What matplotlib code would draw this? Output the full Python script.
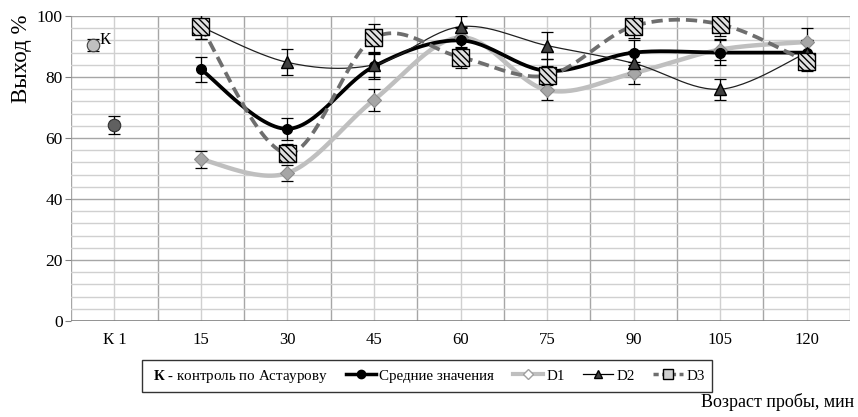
import numpy as np
import matplotlib
matplotlib.use('Agg')
import matplotlib.pyplot as plt
from matplotlib.lines import Line2D

plt.rcParams['font.family'] = ['Liberation Serif', 'DejaVu Serif']
plt.rcParams['mathtext.fontset'] = 'custom'
plt.rcParams['mathtext.bf'] = 'Liberation Serif:bold'
plt.rcParams['mathtext.rm'] = 'Liberation Serif'

categories = ['К 1', '15', '30', '45', '60', '75', '90', '105', '120']

mean_vals = [82.5, 63, 83.5, 92, 82, 88, 88, 88]
mean_err = [4, 3.5, 4, 4, 4, 4, 4, 4]
d1_vals = [53, 48.5, 72.5, 93, 75.7, 81.3, 89, 91.5]
d1_err = [2.7, 2.7, 3.5, 3.5, 3.3, 3.7, 3.5, 4.5]
d2_vals = [96.5, 84.8, 84, 96.5, 90.3, 84.5, 76, 88]
d2_err = [4, 4.3, 4, 3.5, 4.5, 4, 3.5, 4]
d3_vals = [96.5, 55, 92.8, 86.5, 80.5, 96.7, 97.3, 85]
d3_err = [4, 3, 4.5, 3.5, 3, 4, 4, 3]

control_k = 90.5
control_k_err = 2
control_1 = 64.3
control_1_err = 3


def smooth(x, y, n=30):
    # Excel-like smoothed line (Catmull-Rom)
    x = np.asarray(x, float)
    y = np.asarray(y, float)
    px = np.concatenate([[x[0]], x, [x[-1]]])
    py = np.concatenate([[y[0]], y, [y[-1]]])
    xs, ys = [], []
    for i in range(1, len(px) - 2):
        t = np.linspace(0, 1, n)
        p0, p1, p2, p3 = [np.array([px[j], py[j]]) for j in (i - 1, i, i + 1, i + 2)]
        c1 = p1 + (p2 - p0) / 6
        c2 = p2 - (p3 - p1) / 6
        b = ((1 - t) ** 3)[:, None] * p1 + (3 * (1 - t) ** 2 * t)[:, None] * c1 \
            + (3 * (1 - t) * t ** 2)[:, None] * c2 + (t ** 3)[:, None] * p2
        xs.extend(b[:, 0])
        ys.extend(b[:, 1])
    return xs, ys


x = np.arange(1, len(categories))

fig = plt.figure(figsize=(8.58, 4.17), dpi=100)
ax = fig.add_axes([0.0828, 0.2302, 0.9079, 0.7314])

ax.set_xlim(-0.5, len(categories) - 0.5)
ax.set_ylim(0, 100)

# grid
for b in np.arange(-0.5, len(categories), 1.0):
    ax.axvline(b, color='#a6a6a6', lw=1.0, zorder=0)
for c in range(len(categories)):
    ax.axvline(c, color='#d0d0d0', lw=1.0, zorder=0)
for v in range(0, 101, 4):
    if v % 20:
        ax.axhline(v, color='#d0d0d0', lw=1.0, zorder=0)
for v in range(20, 101, 20):
    ax.axhline(v, color='#a6a6a6', lw=1.0, zorder=0)

for s in ax.spines.values():
    s.set_visible(False)
ax.axhline(0, color='#808080', lw=1.2, zorder=1)

ax.set_yticks(range(0, 101, 20))
ax.set_xticks(range(len(categories)))
ax.set_xticklabels(categories)
ax.tick_params(axis='y', length=4, color='#808080', labelsize=12.5, pad=2)
ax.tick_params(axis='x', length=0, labelsize=12, pad=8)
ax.set_ylabel('Выход %', fontsize=16.5)
ax.yaxis.set_label_coords(-0.05, 0.86)

ekw = dict(fmt='none', ecolor='black', elinewidth=0.9, capsize=4, capthick=0.9, zorder=3)

# control points
ax.errorbar([-0.25], [control_k], yerr=[control_k_err], **ekw)
ax.plot([-0.25], [control_k], 'o', ms=9, mfc='#c0c0c0', mec='#404040', mew=0.8, zorder=4)
ax.text(-0.17, control_k + 1.5, 'К', fontsize=12, va='center', ha='left')
ax.errorbar([0], [control_1], yerr=[control_1_err], **ekw)
ax.plot([0], [control_1], 'o', ms=9, mfc='#606060', mec='#303030', mew=0.8, zorder=4)

# D1
sx, sy = smooth(x, d1_vals)
ax.plot(sx, sy, color='#bfbfbf', lw=3.2, zorder=2, solid_capstyle='round')
ax.errorbar(x, d1_vals, yerr=d1_err, **ekw)
ax.plot(x, d1_vals, 'D', ms=7, mfc='#a6a6a6', mec='#8c8c8c', mew=0.8, ls='none', zorder=4)

# mean
sx, sy = smooth(x, mean_vals)
ax.plot(sx, sy, color='black', lw=2.7, zorder=2)
ax.errorbar(x, mean_vals, yerr=mean_err, **ekw)
ax.plot(x, mean_vals, 'o', ms=7, color='black', ls='none', zorder=4)

# D2
sx, sy = smooth(x, d2_vals)
ax.plot(sx, sy, color='#202020', lw=0.9, zorder=2)
ax.errorbar(x, d2_vals, yerr=d2_err, **ekw)
ax.plot(x, d2_vals, '^', ms=9, mfc='#404040', mec='black', mew=1, ls='none', zorder=4)

# D3
sx, sy = smooth(x, d3_vals)
ax.plot(sx, sy, color='#6e6e6e', lw=2.7, ls=(0, (3, 1.6)), zorder=2)
ax.errorbar(x, d3_vals, yerr=d3_err, **ekw)
ax.scatter(x, d3_vals, s=150, marker='s', facecolor='#e0e0e0', edgecolor='black',
           linewidth=1, hatch='\\\\\\\\\\', zorder=5)

# legend
h0 = Line2D([], [], ls='none')
h1 = Line2D([], [], color='black', lw=2.5, marker='o', ms=6)
h2 = Line2D([], [], color='#bfbfbf', lw=3, marker='D', ms=5, mfc='white', mec='#a0a0a0')
h3 = Line2D([], [], color='black', lw=0.9, marker='^', ms=6, mfc='#404040')
h4 = Line2D([], [], color='#6e6e6e', lw=2.5, ls=(0, (1.5, 1)), marker='s', ms=7,
            mfc='#d0d0d0', mec='black')
labels = [r'$\mathbf{К}$ - контроль по Астаурову', 'Средние значения', 'D1', 'D2', 'D3']
leg = fig.legend([h0, h1, h2, h3, h4], labels, loc='center', ncol=5,
                 bbox_to_anchor=(0.498, 0.098), fontsize=10.8, frameon=True,
                 fancybox=False, edgecolor='black', handlelength=2.0,
                 handletextpad=0.2, columnspacing=1.25, borderpad=0.5)
leg.get_frame().set_linewidth(1.0)
# the first entry has no line sample
try:
    first = leg._legend_handle_box.get_children()[0].get_children()[0]
    first.get_children()[0].width = 0
except Exception:
    pass

fig.text(0.995, 0.035, 'Возраст пробы, мин', ha='right', va='center', fontsize=13)

fig.savefig('out.png', dpi=100)
